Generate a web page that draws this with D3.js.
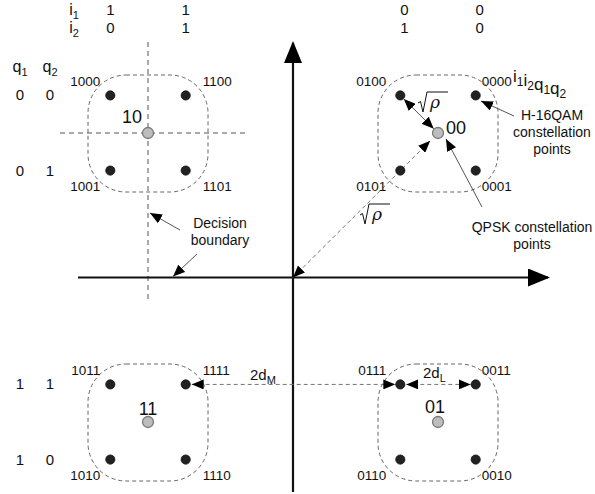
<!DOCTYPE html>
<html>
<head>
<meta charset="utf-8">
<script src="https://cdn.jsdelivr.net/npm/d3@7"></script>
<style>
  body { margin: 0; background: #fff; }
  text { font-family: Arial, "Liberation Sans", sans-serif; fill: #111; }
</style>
</head>
<body>
<div id="canvas"></div>
<script>
// bit mapping of the hierarchical 16QAM
const iBits1 = ["1", "1", "0", "0"];
const iBits2 = ["0", "1", "1", "0"];
const iLevels = [-1.26, -0.74, 0.74, 1.26];
const qBits1 = ["0", "0", "1", "1"];
const qBits2 = ["0", "1", "1", "0"];
const qLevels = [1.26, 0.74, -0.74, -1.26];

// QPSK (high priority) points
const qpskLabels = ["10", "00", "11", "01"];
const qpskI = [-1, 1, -1, 1];
const qpskQ = [1, 1, -1, -1];

const width = 595;
const height = 494;

const svg = d3.select("#canvas").append("svg")
  .attr("width", width)
  .attr("height", height);

const x = d3.scaleLinear().domain([-1, 1]).range([148, 438]);
const y = d3.scaleLinear().domain([-1, 1]).range([422, 133]);

const defs = svg.append("defs");
defs.append("marker")
  .attr("id", "head")
  .attr("viewBox", "0 0 12 10")
  .attr("refX", 12).attr("refY", 5)
  .attr("markerWidth", 12).attr("markerHeight", 10)
  .attr("markerUnits", "userSpaceOnUse")
  .attr("orient", "auto-start-reverse")
  .append("path").attr("d", "M0,0 L12,5 L0,10 Z").attr("fill", "#000");
defs.append("marker")
  .attr("id", "axhead")
  .attr("viewBox", "0 0 22 18")
  .attr("refX", 20).attr("refY", 9)
  .attr("markerWidth", 22).attr("markerHeight", 18)
  .attr("markerUnits", "userSpaceOnUse")
  .attr("orient", "auto")
  .append("path").attr("d", "M0,0 L22,9 L0,18 Z").attr("fill", "#000");

const points = [];
iLevels.forEach((iv, c) => {
  qLevels.forEach((qv, r) => {
    points.push({ i: iv, q: qv, c: c, r: r, label: iBits1[c] + iBits2[c] + qBits1[r] + qBits2[r] });
  });
});
const qpsk = qpskLabels.map((l, k) => ({ label: l, i: qpskI[k], q: qpskQ[k] }));

// decision boundaries
const g = svg.append("g");
g.append("line")
  .attr("x1", x(-1)).attr("x2", x(-1)).attr("y1", 42).attr("y2", 299)
  .attr("stroke", "#555").attr("stroke-width", 1).attr("stroke-dasharray", "5,4");
g.append("line")
  .attr("x1", 60).attr("x2", 245).attr("y1", y(1)).attr("y2", y(1))
  .attr("stroke", "#555").attr("stroke-width", 1).attr("stroke-dasharray", "5,4");

// rounded dashed regions
g.selectAll("rect.region").data(qpsk).enter().append("rect")
  .attr("class", "region")
  .attr("x", (d) => x(d.i) - 60)
  .attr("y", (d) => y(d.q) - 58)
  .attr("width", 120).attr("height", 117)
  .attr("rx", 38).attr("ry", 38)
  .attr("fill", "none").attr("stroke", "#666").attr("stroke-width", 1)
  .attr("stroke-dasharray", "4,3");

// axes
const x0 = x(0), y0 = y(0);
g.append("line")
  .attr("x1", 78).attr("x2", 548).attr("y1", y0).attr("y2", y0)
  .attr("stroke", "#111").attr("stroke-width", 2.2)
  .attr("marker-end", "url(#axhead)");
g.append("line")
  .attr("x1", x0).attr("x2", x0).attr("y1", 492).attr("y2", 43)
  .attr("stroke", "#111").attr("stroke-width", 2.2)
  .attr("marker-end", "url(#axhead)");

// helper for arrows
function arrow(x1, y1, x2, y2, dashed, both) {
  const l = g.append("line")
    .attr("x1", x1).attr("y1", y1).attr("x2", x2).attr("y2", y2)
    .attr("stroke", dashed ? "#777" : "#555").attr("stroke-width", 1)
    .attr("marker-end", "url(#head)");
  if (dashed) l.attr("stroke-dasharray", "4,3");
  if (both) l.attr("marker-start", "url(#head)");
}

// distance arrows
const p0100 = points.find((p) => p.label === "0100");
const q00 = qpsk.find((p) => p.label === "00");
function between(a, b, ra, rb, dashed) {
  const ax = x(a.i), ay = y(a.q), bx = x(b.i), by = y(b.q);
  const len = Math.hypot(bx - ax, by - ay);
  const ux = (bx - ax) / len, uy = (by - ay) / len;
  arrow(ax + ux * ra, ay + uy * ra, bx - ux * rb, by - uy * rb, dashed, true);
}
between(p0100, q00, 5, 6, false);
between({ i: 0, q: 0 }, q00, 0, 11, true);

const p1111 = points.find((p) => p.label === "1111");
const p0111 = points.find((p) => p.label === "0111");
const p0011 = points.find((p) => p.label === "0011");
arrow(x(p1111.i) + 6, y(p1111.q), x(p0111.i) - 5, y(p0111.q), true, true);
arrow(x(p0111.i) + 6, y(p0111.q), x(p0011.i) - 5, y(p0011.q), true, true);

// callout arrows
arrow(180, 230, 150, 213, false, false);
arrow(197, 254, 173, y0 - 1, false, false);
arrow(514, 116, 481, 101, false, false);
arrow(482, 207, 446, 139, false, false);

// constellation points
g.selectAll("circle.qam").data(points).enter().append("circle")
  .attr("class", "qam")
  .attr("cx", (d) => x(d.i)).attr("cy", (d) => y(d.q)).attr("r", 4.6)
  .attr("fill", "#222").attr("stroke", "#111").attr("stroke-width", 0.8);
g.selectAll("circle.qpsk").data(qpsk).enter().append("circle")
  .attr("class", "qpsk")
  .attr("cx", (d) => x(d.i)).attr("cy", (d) => y(d.q)).attr("r", 5.5)
  .attr("fill", "#bdbdbd").attr("stroke", "#7a7a7a").attr("stroke-width", 1.3);

// point labels
g.selectAll("text.plabel").data(points).enter().append("text")
  .attr("class", "plabel")
  .style("font-size", "13.5px")
  .attr("text-anchor", (d) => (d.c % 2 === 0 ? "end" : "start"))
  .attr("x", (d) => {
    const left = d.i < 0;
    if (d.c % 2 === 0) return x(d.i) - (left ? 10 : 14);
    return x(d.i) + (left ? 17 : 6);
  })
  .attr("y", (d) => y(d.q) + (d.r % 2 === 0 ? -9 : 20))
  .text((d) => d.label);

// QPSK labels
const qOff = { "10": [-16, -10, "middle"], "00": [8, 1, "start"], "11": [0, -7, "middle"], "01": [-3, -9, "middle"] };
g.selectAll("text.qlabel").data(qpsk).enter().append("text")
  .attr("class", "qlabel")
  .style("font-size", "18px")
  .attr("text-anchor", (d) => qOff[d.label][2])
  .attr("x", (d) => x(d.i) + qOff[d.label][0])
  .attr("y", (d) => y(d.q) + qOff[d.label][1])
  .text((d) => d.label);

// subscript text helper
function subText(px, py, parts, size, anchor) {
  const t = g.append("text").attr("x", px).attr("y", py)
    .style("font-size", size + "px").attr("text-anchor", anchor || "start");
  parts.forEach(([base, sub]) => {
    t.append("tspan").text(base);
    if (sub) {
      t.append("tspan").attr("dy", 4).style("font-size", Math.round(size * 0.7) + "px").text(sub);
      t.append("tspan").attr("dy", -4).text("");
    }
  });
  return t;
}

// bit headers
subText(74, 15, [["i", "1"]], 16, "middle");
subText(74, 33, [["i", "2"]], 16, "middle");
iLevels.forEach((iv, c) => {
  g.append("text").attr("x", x(iv) + (iv > 0 ? 4 : 0)).attr("y", 15)
    .attr("text-anchor", "middle").style("font-size", "15px").text(iBits1[c]);
  g.append("text").attr("x", x(iv) + (iv > 0 ? 4 : 0)).attr("y", 33)
    .attr("text-anchor", "middle").style("font-size", "15px").text(iBits2[c]);
});
subText(20, 72, [["q", "1"]], 16, "middle");
subText(50, 72, [["q", "2"]], 16, "middle");
qLevels.forEach((qv, r) => {
  g.append("text").attr("x", 20).attr("y", y(qv) + 5)
    .attr("text-anchor", "middle").style("font-size", "15px").text(qBits1[r]);
  g.append("text").attr("x", 50).attr("y", y(qv) + 5)
    .attr("text-anchor", "middle").style("font-size", "15px").text(qBits2[r]);
});
subText(513, 82, [["i", "1"], ["i", "2"], ["q", "1"], ["q", "2"]], 17);

// annotations
const note = (px, py, lines) => {
  lines.forEach((s, k) => {
    g.append("text").attr("x", px).attr("y", py + k * 17)
      .attr("text-anchor", "middle").style("font-size", "14px").text(s);
  });
};
note(552, 120, ["H-16QAM", "constellation", "points"]);
note(532, 232, ["QPSK constellation", "points"]);
note(220, 228, ["Decision", "boundary"]);
subText(250, 380, [["2d", "M"]], 15);
subText(423, 378, [["2d", "L"]], 15);

// square root of rho
function sqrtRho(px, py) {
  g.append("path")
    .attr("d", `M${px},${py + 11} L${px + 2.5},${py + 9.5} L${px + 5},${py + 20} L${px + 9},${py} L${px + 30},${py}`)
    .attr("fill", "none").attr("stroke", "#111").attr("stroke-width", 1);
  g.append("text").attr("x", px + 12).attr("y", py + 16)
    .style("font-family", "'DejaVu Serif', 'Liberation Serif', serif")
    .style("font-style", "italic").style("font-size", "17px").text("ρ");
}
sqrtRho(418, 92);
sqrtRho(360, 204);
</script>
</body>
</html>
